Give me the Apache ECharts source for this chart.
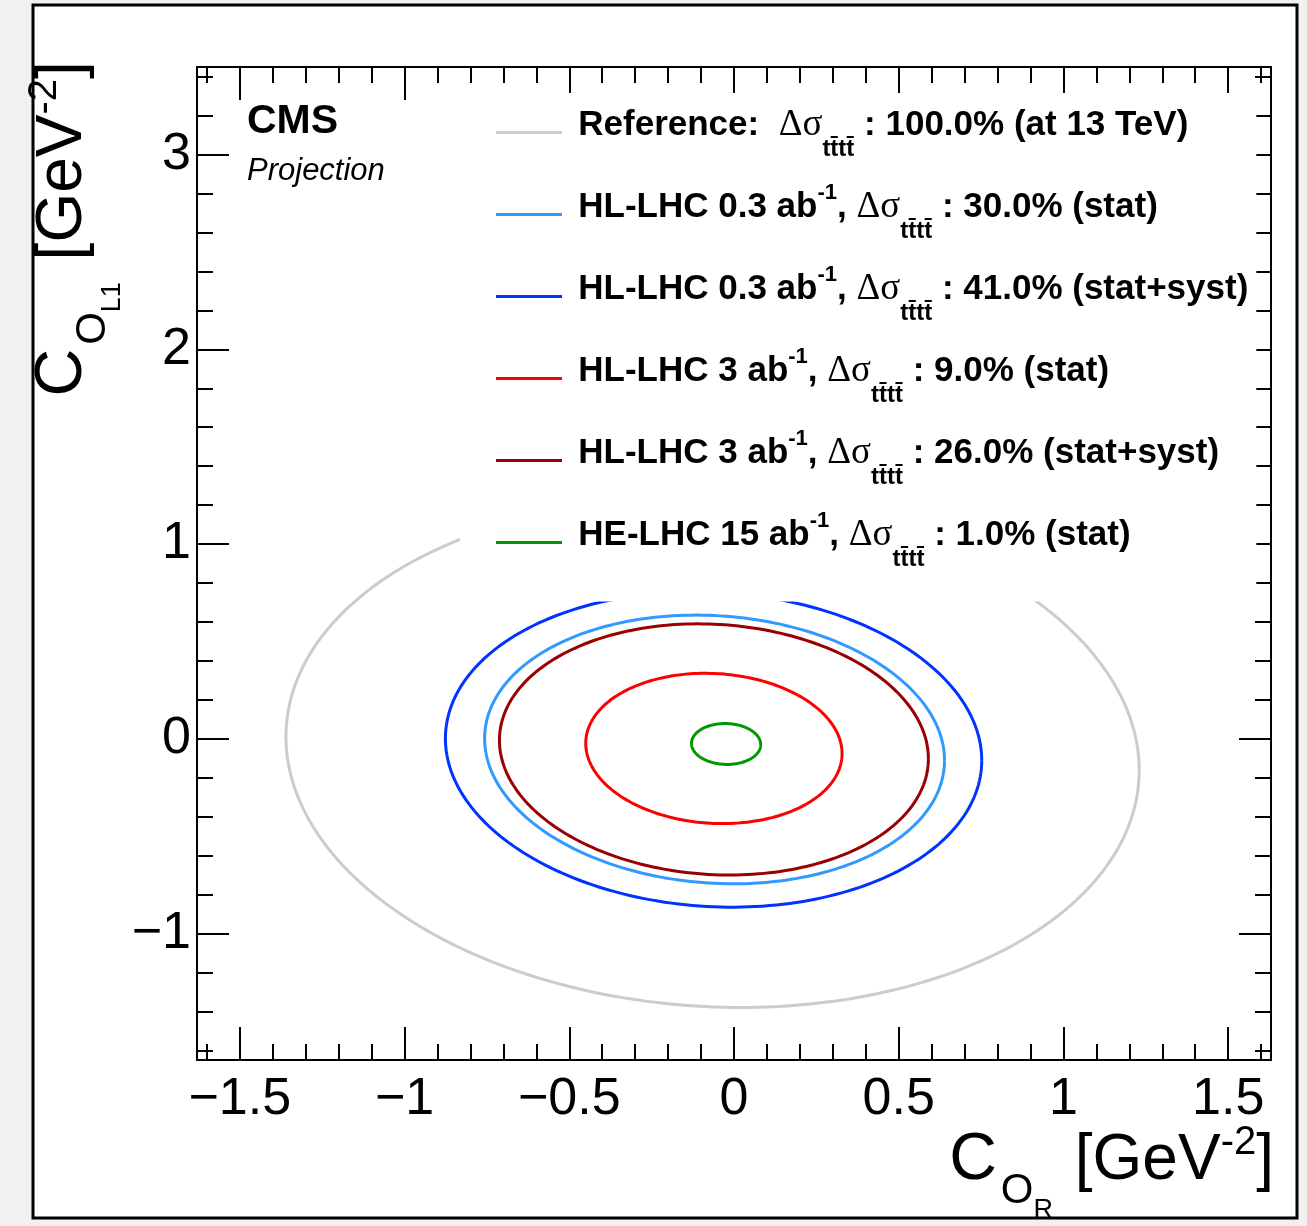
<!DOCTYPE html>
<html>
<head>
<meta charset="utf-8">
<script src="https://cdn.jsdelivr.net/npm/echarts@6/dist/echarts.min.js"></script>
<style>
  html, body { margin: 0; padding: 0; background: #f1f1f2; }
  #chart { width: 1307px; height: 1226px; }
</style>
</head>
<body>
<div id="chart"></div>
<script>
// ---- Contours in the (C_OR, C_OL1) plane, units GeV^-2 ----
// Each contour: centre, half extent along x, half extent along y,
// and the vertical offset of its right-most point (tilt).
const contourNames = ['reference', 'hllhc03_stat', 'hllhc03_statsyst', 'hllhc3_stat', 'hllhc3_statsyst', 'helhc15_stat'];
const centerX    = [-0.065, -0.059, -0.062, -0.061, -0.061, -0.024];
const centerY    = [-0.076, -0.055, -0.055, -0.050, -0.055, -0.027];
const halfWidth  = [1.295, 0.698, 0.814, 0.389, 0.651, 0.105];
const halfHeight = [1.304, 0.690, 0.810, 0.386, 0.645, 0.105];
const rightTilt  = [-0.086, -0.056, -0.056, -0.026, -0.047, -0.003];

// ---- Legend wording ----
const machine  = ['Reference:', 'HL-LHC', 'HL-LHC', 'HL-LHC', 'HL-LHC', 'HE-LHC'];
const lumi     = [null, '0.3', '0.3', '3', '3', '15'];
const xsecUnc  = ['100.0%', '30.0%', '41.0%', '9.0%', '26.0%', '1.0%'];
const uncNote  = ['(at 13 TeV)', '(stat)', '(stat+syst)', '(stat)', '(stat+syst)', '(stat)'];

// ---- Axis ticks ----
const xMajorTicks = [-1.5, -1, -0.5, 0, 0.5, 1, 1.5];
const yMajorTicks = [-1, 0, 1, 2, 3];
const X_RANGE = [-1.63, 1.63];
const Y_RANGE = [-1.65, 3.45];

function stepTicks(lo, hi, step) {
  const out = [];
  for (let v = lo; v <= hi + 1e-9; v += step) out.push(Math.round(v * 1000) / 1000);
  return out;
}
const xMinorTicks = stepTicks(-1.6, 1.6, 0.1);
const yMinorTicks = stepTicks(-1.6, 3.4, 0.2);

// ---- Styles ----
const contourColors = ['#cccccc', '#3399ff', '#0033ff', '#ff0000', '#990000', '#009900'];
const SANS = "'Liberation Sans', Arial, Helvetica, sans-serif";
const SERIF = "'Liberation Serif', 'Times New Roman', serif";
const minus = v => String(v).replace('-', '\u2212');

function axisX(position, ticks, len, withLabels) {
  return {
    type: 'value', position, min: X_RANGE[0], max: X_RANGE[1],
    axisLine: { show: withLabels !== null, onZero: false, lineStyle: { color: '#000', width: 2 } },
    axisTick: { show: true, inside: true, length: len, customValues: ticks, lineStyle: { color: '#000', width: 2 } },
    axisLabel: withLabels ? {
      show: true, customValues: ticks, margin: 14, color: '#000',
      fontFamily: SANS, fontSize: 52, formatter: minus
    } : { show: false },
    splitLine: { show: false }, minorTick: { show: false }
  };
}
function axisY(position, ticks, len, withLabels) {
  return {
    type: 'value', position, min: Y_RANGE[0], max: Y_RANGE[1],
    axisLine: { show: withLabels !== null, onZero: false, lineStyle: { color: '#000', width: 2 } },
    axisTick: { show: true, inside: true, length: len, customValues: ticks, lineStyle: { color: '#000', width: 2 } },
    axisLabel: withLabels ? {
      show: true, customValues: ticks, margin: 6, color: '#000',
      fontFamily: SANS, fontSize: 52, formatter: minus
    } : { show: false },
    splitLine: { show: false }, minorTick: { show: false }
  };
}

// Closed contour outline built through the cartesian scales
function renderContour(params, api) {
  const cx = api.value(0), cy = api.value(1);
  const hx = api.value(2), hy = api.value(3), k = api.value(4);
  const s = Math.sqrt(Math.max(hy * hy - k * k, 0));
  const pts = [];
  const n = 240;
  for (let i = 0; i <= n; i++) {
    const t = (i / n) * Math.PI * 2;
    pts.push(api.coord([cx + hx * Math.cos(t), cy + k * Math.cos(t) + s * Math.sin(t)]));
  }
  return {
    type: 'polyline',
    shape: { points: pts },
    style: { stroke: api.visual('color'), lineWidth: 3, fill: null }
  };
}

const TTTT = 't\u0074\u0304t\u0074\u0304';
function legendText(name) {
  const i = contourNames.indexOf(name);
  const head = lumi[i] === null
    ? `{m|${machine[i]}  }`
    : `{m|${machine[i]} ${lumi[i]} ab}{p|-1}{m|, }`;
  return `{h| }${head}{d|\u0394\u03c3}{s|${TTTT}}{m| : ${xsecUnc[i]} ${uncNote[i]}}`;
}

const series = contourNames.map((name, i) => ({
  type: 'custom',
  name,
  xAxisIndex: 0,
  yAxisIndex: 0,
  itemStyle: { color: contourColors[i] },
  renderItem: renderContour,
  data: [[centerX[i], centerY[i], halfWidth[i], halfHeight[i], rightTilt[i]]],
  z: 3
}));

// rich-text pieces for the axis titles (main text, subscript, sub-subscript, superscript)
function titleRich() {
  return {
    h: { fontSize: 1, lineHeight: 120 },
    c: { fontFamily: SANS, fontSize: 66, lineHeight: 66, verticalAlign: 'middle', padding: [0, 4, 0, 0] },
    m: { fontFamily: SANS, fontSize: 64, lineHeight: 64, verticalAlign: 'middle' },
    o: { fontFamily: SANS, fontSize: 42, height: 60, lineHeight: 60, verticalAlign: 'bottom' },
    r: { fontFamily: SANS, fontSize: 27, height: 20, lineHeight: 20, verticalAlign: 'bottom', padding: [0, 4, 0, 0] },
    e: { fontFamily: SANS, fontSize: 40, height: 84, lineHeight: 84, verticalAlign: 'top' }
  };
}

const chart = echarts.init(document.getElementById('chart'), null, { renderer: 'canvas' });
chart.setOption({
  animation: false,
  grid: { left: 197, right: 36, top: 67, bottom: 166, outerBoundsMode: 'none', containLabel: false },
  xAxis: [
    axisX('bottom', xMajorTicks, 33, true),
    axisX('bottom', xMinorTicks, 16, null),
    axisX('top', xMajorTicks, 33, false),
    axisX('top', xMinorTicks, 16, null)
  ],
  yAxis: [
    axisY('left', yMajorTicks, 32, true),
    axisY('left', yMinorTicks, 16, null),
    axisY('right', yMajorTicks, 32, false),
    axisY('right', yMinorTicks, 16, null)
  ],
  legend: {
    show: true,
    orient: 'vertical',
    left: 460,
    top: 93,
    backgroundColor: '#ffffff',
    padding: [14, 8, 30, 36],
    itemGap: 20,
    itemWidth: 66,
    itemHeight: 3,
    icon: 'rect',
    selectedMode: false,
    data: contourNames.map((n, i) => ({ name: n, icon: 'rect', itemStyle: { color: contourColors[i] } })),
    formatter: legendText,
    textStyle: {
      color: '#000', fontFamily: SANS, fontWeight: 'bold', fontSize: 35,
      padding: [0, 0, 0, 11],
      rich: {
        h: { fontSize: 1, lineHeight: 48 },
        m: { fontFamily: SANS, fontWeight: 'bold', fontSize: 35, height: 34, lineHeight: 34, verticalAlign: 'top', color: '#000' },
        d: { fontFamily: SERIF, fontWeight: 'normal', fontSize: 37, height: 34, lineHeight: 34, verticalAlign: 'top', color: '#000' },
        s: { fontFamily: SANS, fontWeight: 'bold', fontSize: 24, height: 14, lineHeight: 14, verticalAlign: 'bottom', color: '#000' },
        p: { fontFamily: SANS, fontWeight: 'bold', fontSize: 22, height: 4, lineHeight: 4, verticalAlign: 'top', color: '#000' }
      }
    }
  },
  graphic: [
    {
      type: 'rect', silent: true, z: -10,
      shape: { x: 33, y: 5, width: 1264, height: 1213 },
      style: { fill: '#ffffff', stroke: '#000000', lineWidth: 3 }
    },
    {
      type: 'text', silent: true, x: 247, y: 122, z: 10,
      style: { text: 'CMS', fill: '#000', font: `bold 41px ${SANS}`, align: 'left', verticalAlign: 'middle', textAlign: 'left', textVerticalAlign: 'middle' }
    },
    {
      type: 'text', silent: true, x: 247, y: 171, z: 10,
      style: { text: 'Projection', fill: '#000', font: `italic 31px ${SANS}`, align: 'left', verticalAlign: 'middle', textAlign: 'left', textVerticalAlign: 'middle' }
    },
    {
      type: 'text', silent: true, x: 1274, y: 1161, z: 10,
      style: {
        text: '{h| }{c|C}{o|O}{r|R}{m| [GeV}{e|-2}{m|]}',
        fill: '#000', align: 'right', verticalAlign: 'middle', textAlign: 'right', textVerticalAlign: 'middle',
        font: `64px ${SANS}`,
        rich: titleRich()
      }
    },
    {
      type: 'text', silent: true, x: 63, y: 229, rotation: Math.PI / 2, z: 10,
      style: {
        text: '{h| }{c|C}{o|O}{r|L1}{m| [GeV}{e|-2}{m|]}',
        fill: '#000', align: 'center', verticalAlign: 'middle', textAlign: 'center', textVerticalAlign: 'middle',
        font: `64px ${SANS}`,
        rich: titleRich()
      }
    }
  ],
  series
});
</script>
</body>
</html>
